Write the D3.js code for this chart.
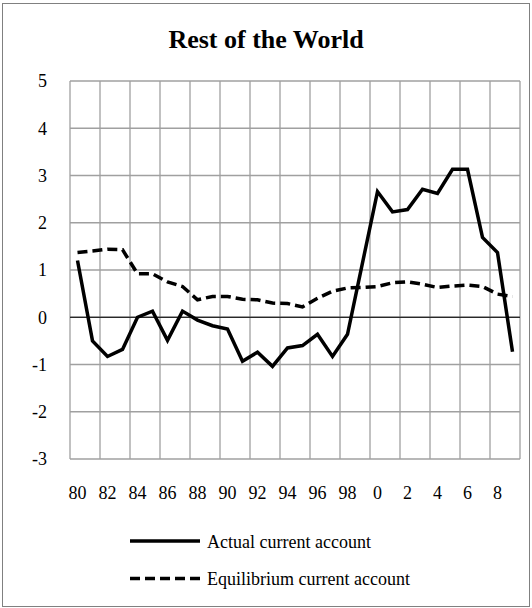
<!DOCTYPE html>
<html>
<head>
<meta charset="utf-8">
<script src="https://cdn.jsdelivr.net/npm/d3@7"></script>
<style>
  body { margin: 0; background: #fff; }
  svg text { font-family: "Liberation Serif", "DejaVu Serif", serif; fill: #000; }
</style>
</head>
<body>
<svg id="chart"></svg>
<script>
// years 1980..2009
const years = d3.range(1980, 2010);
const actual = [1.20, -0.50, -0.83, -0.68, 0.00, 0.13, -0.49, 0.13, -0.06, -0.18,
                -0.25, -0.93, -0.74, -1.04, -0.65, -0.60, -0.36, -0.83, -0.36, 1.15,
                2.66, 2.23, 2.28, 2.71, 2.62, 3.13, 3.13, 1.69, 1.37, -0.73];
const equilibrium = [1.37, 1.40, 1.44, 1.43, 0.92, 0.92, 0.75, 0.65, 0.37, 0.44,
                     0.44, 0.38, 0.37, 0.30, 0.29, 0.22, 0.40, 0.55, 0.62, 0.63,
                     0.65, 0.73, 0.75, 0.70, 0.63, 0.66, 0.68, 0.65, 0.49, 0.44];
const yTicks = [-3, -2, -1, 0, 1, 2, 3, 4, 5];
const xLabel = y => String(y % 100);
const seriesNames = ["Actual current account", "Equilibrium current account"];

class LineChart {
  constructor(config) {
    this.config = {
      parent: config.parent,
      width: config.width || 532,
      height: config.height || 608,
      margin: config.margin || {top: 81, right: 12, bottom: 149, left: 70}
    };
    this.init();
  }

  init() {
    let self = this;
    self.svg = d3.select(self.config.parent)
      .attr('width', self.config.width)
      .attr('height', self.config.height);

    self.inner_w = self.config.width - self.config.margin.left - self.config.margin.right;
    self.inner_h = self.config.height - self.config.margin.top - self.config.margin.bottom;

    self.chart = self.svg.append('g')
      .attr('transform', `translate(${self.config.margin.left}, ${self.config.margin.top})`);

    self.xscale = d3.scaleBand().domain(years).range([0, self.inner_w]);
    self.yscale = d3.scaleLinear().domain([-3, 5]).range([self.inner_h, 0]);
  }

  render() {
    let self = this;
    const W = self.config.width, H = self.config.height;

    // outer frame
    self.svg.append('rect')
      .attr('x', 2.5).attr('y', 3.5)
      .attr('width', W - 5).attr('height', H - 5)
      .attr('fill', 'none').attr('stroke', '#808080').attr('stroke-width', 1);

    // title
    self.svg.append('text')
      .attr('x', 266).attr('y', 48)
      .attr('text-anchor', 'middle')
      .attr('font-size', 26).attr('font-weight', 'bold')
      .text('Rest of the World');

    // horizontal grid
    self.chart.selectAll('.hgrid')
      .data(yTicks)
      .join('line')
      .attr('x1', 0).attr('x2', self.inner_w)
      .attr('y1', d => self.yscale(d)).attr('y2', d => self.yscale(d))
      .attr('stroke', '#a0a0a0').attr('stroke-width', 1.3);

    // vertical grid, every two years
    const vyears = years.filter((d, i) => i % 2 == 0);
    self.chart.selectAll('.vgrid')
      .data(vyears)
      .join('line')
      .attr('x1', d => self.xscale(d)).attr('x2', d => self.xscale(d))
      .attr('y1', 0).attr('y2', self.inner_h)
      .attr('stroke', '#a0a0a0').attr('stroke-width', 1.3);
    self.chart.append('line')
      .attr('x1', self.inner_w).attr('x2', self.inner_w)
      .attr('y1', 0).attr('y2', self.inner_h)
      .attr('stroke', '#a0a0a0').attr('stroke-width', 1.3);

    // zero line
    self.chart.append('line')
      .attr('x1', 0).attr('x2', self.inner_w)
      .attr('y1', self.yscale(0)).attr('y2', self.yscale(0))
      .attr('stroke', '#000').attr('stroke-width', 1.2);

    // y axis labels (plain hyphen minus like the original)
    const yaxis = d3.axisLeft(self.yscale).tickValues(yTicks).tickFormat(d => String(d))
      .tickSize(0).tickPadding(23);
    self.chart.append('g').call(yaxis)
      .call(g => g.select('.domain').remove())
      .selectAll('text')
      .attr('font-size', 18).attr('font-family', null);

    // x axis labels
    const xaxis = d3.axisBottom(self.xscale).tickValues(vyears).tickFormat(xLabel)
      .tickSize(0).tickPadding(27);
    self.chart.append('g')
      .attr('transform', `translate(0, ${self.inner_h})`)
      .call(xaxis)
      .call(g => g.select('.domain').remove())
      .selectAll('text')
      .attr('font-size', 18).attr('font-family', null);

    const line = d3.line()
      .x((d, i) => self.xscale(years[i]) + self.xscale.bandwidth() / 2)
      .y(d => self.yscale(d));

    self.chart.append('path')
      .attr('d', line(equilibrium))
      .attr('fill', 'none').attr('stroke', '#000')
      .attr('stroke-width', 3.5).attr('stroke-dasharray', '10,5');

    self.chart.append('path')
      .attr('d', line(actual))
      .attr('fill', 'none').attr('stroke', '#000')
      .attr('stroke-width', 3.5).attr('stroke-linejoin', 'miter');

    // legend
    const legend = self.svg.append('g');
    seriesNames.forEach((name, i) => {
      const ly = 541 + i * 37.5;
      legend.append('line')
        .attr('x1', 130).attr('x2', 200)
        .attr('y1', ly).attr('y2', ly)
        .attr('stroke', '#000').attr('stroke-width', 3.5)
        .attr('stroke-dasharray', i == 1 ? '10,5' : null);
      legend.append('text')
        .attr('x', 207).attr('y', ly + 6.5)
        .attr('font-size', 18)
        .text(name);
    });
  }
}

const chart = new LineChart({parent: '#chart'});
chart.render();
</script>
</body>
</html>
